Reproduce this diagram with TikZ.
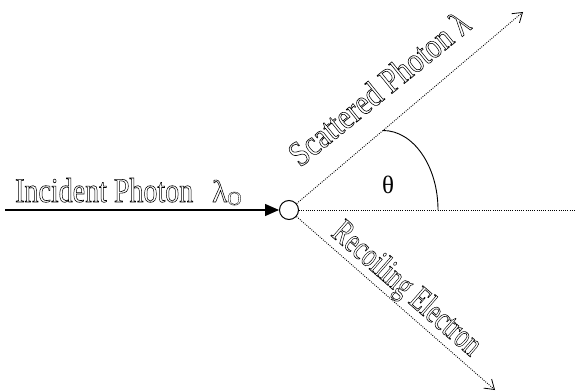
\documentclass[tikz,border=0pt]{standalone}
\usepackage{fontspec}
\setmainfont{Liberation Serif}
\usetikzlibrary{arrows.meta}
\newcommand\outl[1]{\special{pdf:literal direct 1 Tr 0.6 w}#1\special{pdf:literal direct 0 Tr 0.4 w}}
\begin{document}
\begin{tikzpicture}[x=1pt,y=1pt,
  dotline/.style={line width=0.9pt, dash pattern=on 0.9pt off 1.3pt},
  openhead/.style={-{Straight Barb[length=9pt,width=12pt,line width=0.8pt]}},
  lbl/.style={inner sep=0pt, font=\fontsize{34}{34}\selectfont}]
\useasboundingbox (0,0) rectangle (575,391);
\node[circle, draw, fill=white, line width=1pt, minimum size=19pt, inner sep=0pt] (e) at (289,181) {};
\coordinate (in) at (5,181);
\coordinate (up) at (523,379);
\coordinate (down) at (495,1);
\coordinate (right) at (575,181);
\coordinate (arctop) at (383,260.5);
\draw[line width=1.2pt, -{Triangle[length=14pt,width=12pt]}] (in) -- (e);
\draw[dotline, openhead] (e) -- (up);
\draw[dotline, openhead] (e) -- (down);
\draw[dotline] (e) -- (right);
\draw[line width=0.9pt] (arctop) arc[start angle=90, end angle=0, x radius=55, y radius=79.5];
\node[lbl, anchor=base west] (inc) at (15,189) {\resizebox{178pt}{24pt}{\outl{Incident Photon}}};
\node[lbl, anchor=base west] (lam) at (212,189) {\resizebox{!}{22pt}{\outl{λ}}\raisebox{-3pt}{\resizebox{!}{13pt}{\outl{O}}}};
\node[lbl, anchor=base west, rotate=39] (sc) at (300,223) {\resizebox{222pt}{25pt}{\outl{Scattered Photon λ}}};
\node[lbl, anchor=base west, rotate=-41] (rec) at (330,156) {\resizebox{186pt}{24pt}{\outl{Recoiling Electron}}};
\node[font=\fontsize{25}{25}\selectfont, inner sep=0pt] (th) at (388,206) {θ};
\end{tikzpicture}
\end{document}
